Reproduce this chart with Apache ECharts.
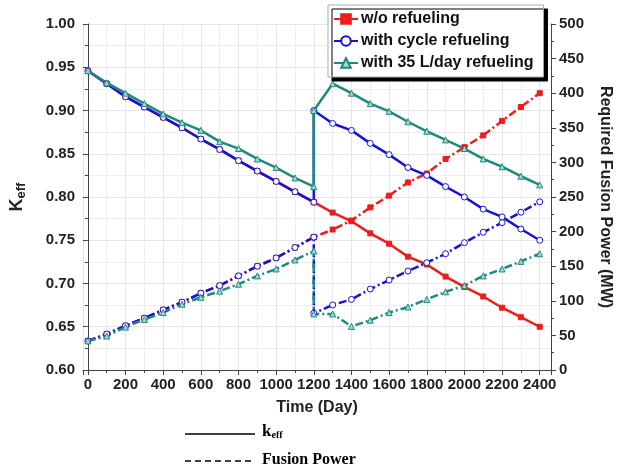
<!DOCTYPE html>
<html>
<head>
<meta charset="utf-8">
<script src="https://cdn.jsdelivr.net/npm/echarts@6/dist/echarts.min.js"></script>
<style>
	html,body{margin:0;padding:0;background:#fff;}
	#chart{width:621px;height:471px;}
</style>
</head>
<body>
<div id="chart"></div>
<script>
	// time axis (day), two periods: before and after the refuel at day 1200
	var daysA = [0,100,200,300,400,500,600,700,800,900,1000,1100,1200];
	var daysB = [1200,1300,1400,1500,1600,1700,1800,1900,2000,2100,2200,2300,2400];

	// keff (left axis)
	var kNoA    = [0.946,0.931,0.916,0.904,0.892,0.880,0.867,0.855,0.842,0.830,0.818,0.806,0.794];
	var kNoB    = [0.794,0.782,0.772,0.758,0.746,0.731,0.722,0.708,0.696,0.685,0.672,0.661,0.650];
	var kCycA   = [0.946,0.931,0.916,0.904,0.892,0.880,0.867,0.855,0.842,0.830,0.818,0.806,0.794];
	var kCycB   = [0.900,0.885,0.877,0.862,0.849,0.834,0.825,0.812,0.800,0.786,0.777,0.763,0.750];
	var k35A    = [0.946,0.932,0.920,0.908,0.896,0.886,0.877,0.864,0.856,0.844,0.834,0.822,0.812];
	var k35B    = [0.900,0.931,0.920,0.908,0.899,0.887,0.876,0.866,0.856,0.844,0.835,0.824,0.814];

	// required fusion power, MW (right axis)
	var pNoA    = [42,52,64,75,87,98,111,122,136,150,162,177,192];
	var pNoB    = [192,203,216,235,252,271,284,305,322,339,360,380,400];
	var pCycA   = [42,52,64,75,87,98,111,122,136,150,162,177,192];
	var pCycB   = [82,94,102,117,130,143,155,168,184,199,213,228,243];
	var p35A    = [42,49,62,73,83,95,105,114,124,136,146,159,172];
	var p35B    = [81,81,63,72,83,91,102,113,122,136,146,157,168];

	var names = ['w/o refueling','with cycle refueling','with 35 L/day refueling'];

	var RED = '#ee1c1c', BLUE = '#1414d8', TEAL = '#1f8a7c';
	var FONT = 'Liberation Sans';
	var DASHDOT = [8,3,2,3];

	function pairs(xa,ya,xb,yb){
		var out = [];
		for(var i=0;i<xa.length;i++) out.push([xa[i],ya[i]]);
		for(var j=0;j<xb.length;j++) out.push([xb[j],yb[j]]);
		return out;
	}

	function mk(name,data,yIdx,color,symbol,size,fill,dash){
		return {
			name: name,
			type: 'line',
			yAxisIndex: yIdx,
			data: data,
			symbol: symbol,
			symbolSize: size,
			showAllSymbol: true,
			animation: false,
			lineStyle: { color: color, width: 2.5, type: dash ? DASHDOT : 'solid' },
			itemStyle: { color: fill, borderColor: color, borderWidth: 1 },
		};
	}

	var chart = echarts.init(document.getElementById('chart'));
	var axisLab = { color:'#222', fontFamily:FONT, fontWeight:'bold', fontSize:15 };
	var gridLine = { lineStyle:{ color:'#e6e6e6', width:1 } };

	chart.setOption({
		animation: false,
		grid: { left:82, right:70, top:24, bottom:101 },
		legend: {
			orient: 'vertical',
			left: 328, top: 5,
			padding: [6,10,6,5],
			itemWidth: 24, itemHeight: 12, itemGap: 6,
			backgroundColor: '#fff',
			borderColor: '#aaa', borderWidth: 1,
			shadowColor: '#000', shadowBlur: 0, shadowOffsetX: 4, shadowOffsetY: 4,
			data: names,
			textStyle: { color:'#111', fontFamily:FONT, fontWeight:'bold', fontSize:16, padding:[0,0,0,-2] },
		},
		xAxis: {
			type: 'value',
			min: -26, max: 2460,
			splitNumber: 12, minInterval: 200, maxInterval: 200,
			name: 'Time (Day)', nameLocation: 'middle', nameGap: 30,
			nameTextStyle: { color:'#222', fontFamily:FONT, fontWeight:'bold', fontSize:16 },
			axisLine: { lineStyle:{ color:'#444', width:1 } },
			axisTick: { inside:false, length:5, lineStyle:{ color:'#444' } },
			minorTick: { show:true, splitNumber:2, length:3, lineStyle:{ color:'#444' } },
			axisLabel: Object.assign({ margin:7, formatter:function(v){ return (v>=0 && v%200===0) ? v : ''; } }, axisLab),
			splitLine: gridLine,
			minorSplitLine: { show:true, lineStyle:{ color:'#eeeeee', width:1 } },
		},
		yAxis: [{
			type: 'value',
			min: 0.6, max: 1.0, interval: 0.05,
			name: '{k|K}{s|eff}', nameLocation: 'middle', nameGap: 55, nameRotate: 90,
			nameTextStyle: {
				rich: {
					k: { color:'#222', fontFamily:FONT, fontWeight:'bold', fontSize:18, lineHeight:22 },
					s: { color:'#222', fontFamily:FONT, fontWeight:'bold', fontSize:13, lineHeight:22, verticalAlign:'bottom', padding:[6,0,0,0] },
				}
			},
			axisLine: { show:true, lineStyle:{ color:'#444', width:1 } },
			axisTick: { show:true, length:5, lineStyle:{ color:'#444' } },
			minorTick: { show:true, splitNumber:2, length:3, lineStyle:{ color:'#444' } },
			axisLabel: Object.assign({ margin:8, formatter:function(v){ return v.toFixed(2); } }, axisLab),
			splitLine: gridLine,
			minorSplitLine: { show:true, lineStyle:{ color:'#eeeeee', width:1 } },
		},{
			type: 'value',
			min: 0, max: 500, interval: 50,
			position: 'right',
			name: 'Required Fusion Power (MW)', nameLocation: 'middle', nameGap: 46, nameRotate: -90,
			nameTextStyle: { color:'#222', fontFamily:FONT, fontWeight:'bold', fontSize:16 },
			axisLine: { show:true, lineStyle:{ color:'#444', width:1 } },
			axisTick: { show:true, length:5, lineStyle:{ color:'#444' } },
			minorTick: { show:true, splitNumber:2, length:3, lineStyle:{ color:'#444' } },
			axisLabel: Object.assign({ margin:8 }, axisLab),
			splitLine: { show:false },
		}],
		series: [
			mk(names[0], pairs(daysA,kNoA,daysB,kNoB), 0, RED, 'rect', 5, RED, false),
			mk(names[0], pairs(daysA,pNoA,daysB,pNoB), 1, RED, 'rect', 5, RED, true),
			mk(names[1], pairs(daysA,kCycA,daysB,kCycB), 0, BLUE, 'circle', 6, '#fff', false),
			mk(names[1], pairs(daysA,pCycA,daysB,pCycB), 1, BLUE, 'circle', 6, '#fff', true),
			mk(names[2], pairs(daysA,k35A,daysB,k35B), 0, TEAL, 'triangle', 6, '#9fd8d0', false),
			mk(names[2], pairs(daysA,p35A,daysB,p35B), 1, TEAL, 'triangle', 6, '#9fd8d0', true),
		],
		graphic: [
			{ type:'line', shape:{ x1:185, y1:434, x2:255, y2:434 }, style:{ stroke:'#000', lineWidth:1.5 } },
			{ type:'text', left:262, top:423, style:{
				text:'{k|k}{s|eff}',
				rich:{
					k:{ fill:'#000', fontFamily:'Liberation Serif', fontWeight:'bold', fontSize:17 },
					s:{ fill:'#000', fontFamily:'Liberation Serif', fontWeight:'bold', fontSize:10, padding:[8,0,0,0] },
				}
			} },
			{ type:'line', shape:{ x1:185, y1:461, x2:255, y2:461 }, style:{ stroke:'#000', lineWidth:1.5, lineDash:[6,4] } },
			{ type:'text', left:262, top:452, style:{ text:'Fusion Power', fill:'#000', font:'bold 16px "Liberation Serif"' } },
		],
	});
</script>
</body>
</html>
